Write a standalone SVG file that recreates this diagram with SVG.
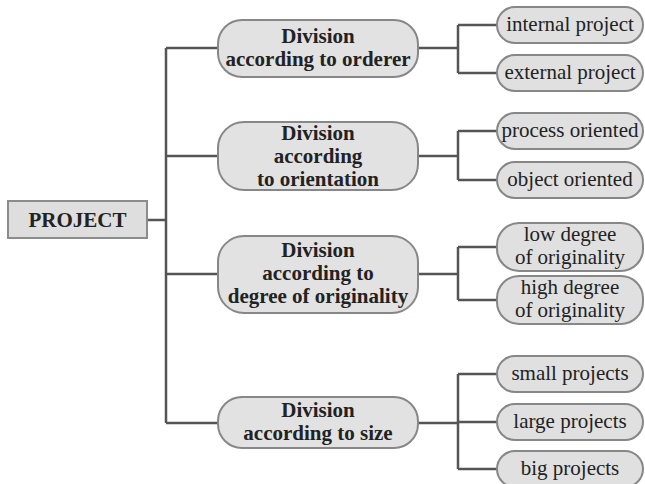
<svg xmlns="http://www.w3.org/2000/svg" width="645" height="484" viewBox="0 0 645 484">
<style>
.bg{fill:#ffffff}
.root{fill:#dedede;stroke:#8c8c8c;stroke-width:2}
.cat{fill:#e2e2e2;stroke:#878787;stroke-width:2}
.leaf{fill:#e0e0e0;stroke:#878787;stroke-width:2}
.conn{fill:none;stroke:#555555;stroke-width:2.5}
.tb{font-family:"Liberation Serif","Times New Roman",serif;font-weight:bold;font-size:21px;fill:#222222;text-anchor:middle}
.tr{font-family:"Liberation Serif","Times New Roman",serif;font-size:21px;fill:#222222;text-anchor:middle}
</style>
<rect class="bg" x="0" y="0" width="645" height="484"/>
<g id="connectors">
<path class="conn" d="M147 220 H166 M166 48 V423 M166 48 H218 M166 156 H218 M166 274 H218 M166 423 H218"/>
<path class="conn" d="M418 48 H458 M458 25 V73 M458 25 H497 M458 73 H497"/>
<path class="conn" d="M418 156 H458 M458 131 V180 M458 131 H497 M458 180 H497"/>
<path class="conn" d="M418 274 H458 M458 247 V300 M458 247 H497 M458 300 H497"/>
<path class="conn" d="M418 423 H458 M458 374 V469 M458 374 H497 M458 422 H497 M458 469 H497"/>
</g>
<g id="project">
<rect class="root" x="8" y="201" width="139" height="37"/>
<text class="tb" x="77.5" y="227">PROJECT</text>
</g>
<g id="orderer">
<rect class="cat" x="218" y="20" width="200" height="57" rx="24"/>
<text class="tb" x="318" y="43">Division</text>
<text class="tb" x="318" y="66">according to orderer</text>
</g>
<g id="orientation">
<rect class="cat" x="218" y="122" width="200" height="68" rx="26"/>
<text class="tb" x="318" y="140">Division</text>
<text class="tb" x="318" y="163">according</text>
<text class="tb" x="318" y="186">to orientation</text>
</g>
<g id="originality">
<rect class="cat" x="218" y="236" width="200" height="77" rx="26"/>
<text class="tb" x="318" y="257">Division</text>
<text class="tb" x="318" y="280">according to</text>
<text class="tb" x="318" y="303">degree of originality</text>
</g>
<g id="size">
<rect class="cat" x="218" y="397" width="200" height="51" rx="24"/>
<text class="tb" x="318" y="417">Division</text>
<text class="tb" x="318" y="440">according to size</text>
</g>
<g id="internal">
<rect class="leaf" x="497" y="7" width="146" height="36" rx="18"/>
<text class="tr" x="570" y="31">internal project</text>
</g>
<g id="external">
<rect class="leaf" x="497" y="55" width="146" height="36" rx="18"/>
<text class="tr" x="570" y="79">external project</text>
</g>
<g id="process">
<rect class="leaf" x="497" y="113" width="146" height="36" rx="18"/>
<text class="tr" x="570" y="137">process oriented</text>
</g>
<g id="object">
<rect class="leaf" x="497" y="162" width="146" height="36" rx="18"/>
<text class="tr" x="570" y="186">object oriented</text>
</g>
<g id="low">
<rect class="leaf" x="497" y="223" width="146" height="48" rx="22"/>
<text class="tr" x="570" y="241">low degree</text>
<text class="tr" x="570" y="264">of originality</text>
</g>
<g id="high">
<rect class="leaf" x="497" y="276" width="146" height="48" rx="22"/>
<text class="tr" x="570" y="294">high degree</text>
<text class="tr" x="570" y="317">of originality</text>
</g>
<g id="small">
<rect class="leaf" x="497" y="356" width="146" height="36" rx="18"/>
<text class="tr" x="570" y="380">small projects</text>
</g>
<g id="large">
<rect class="leaf" x="497" y="404" width="146" height="36" rx="18"/>
<text class="tr" x="570" y="428">large projects</text>
</g>
<g id="big">
<rect class="leaf" x="497" y="451" width="146" height="36" rx="18"/>
<text class="tr" x="570" y="475">big projects</text>
</g>
</svg>
